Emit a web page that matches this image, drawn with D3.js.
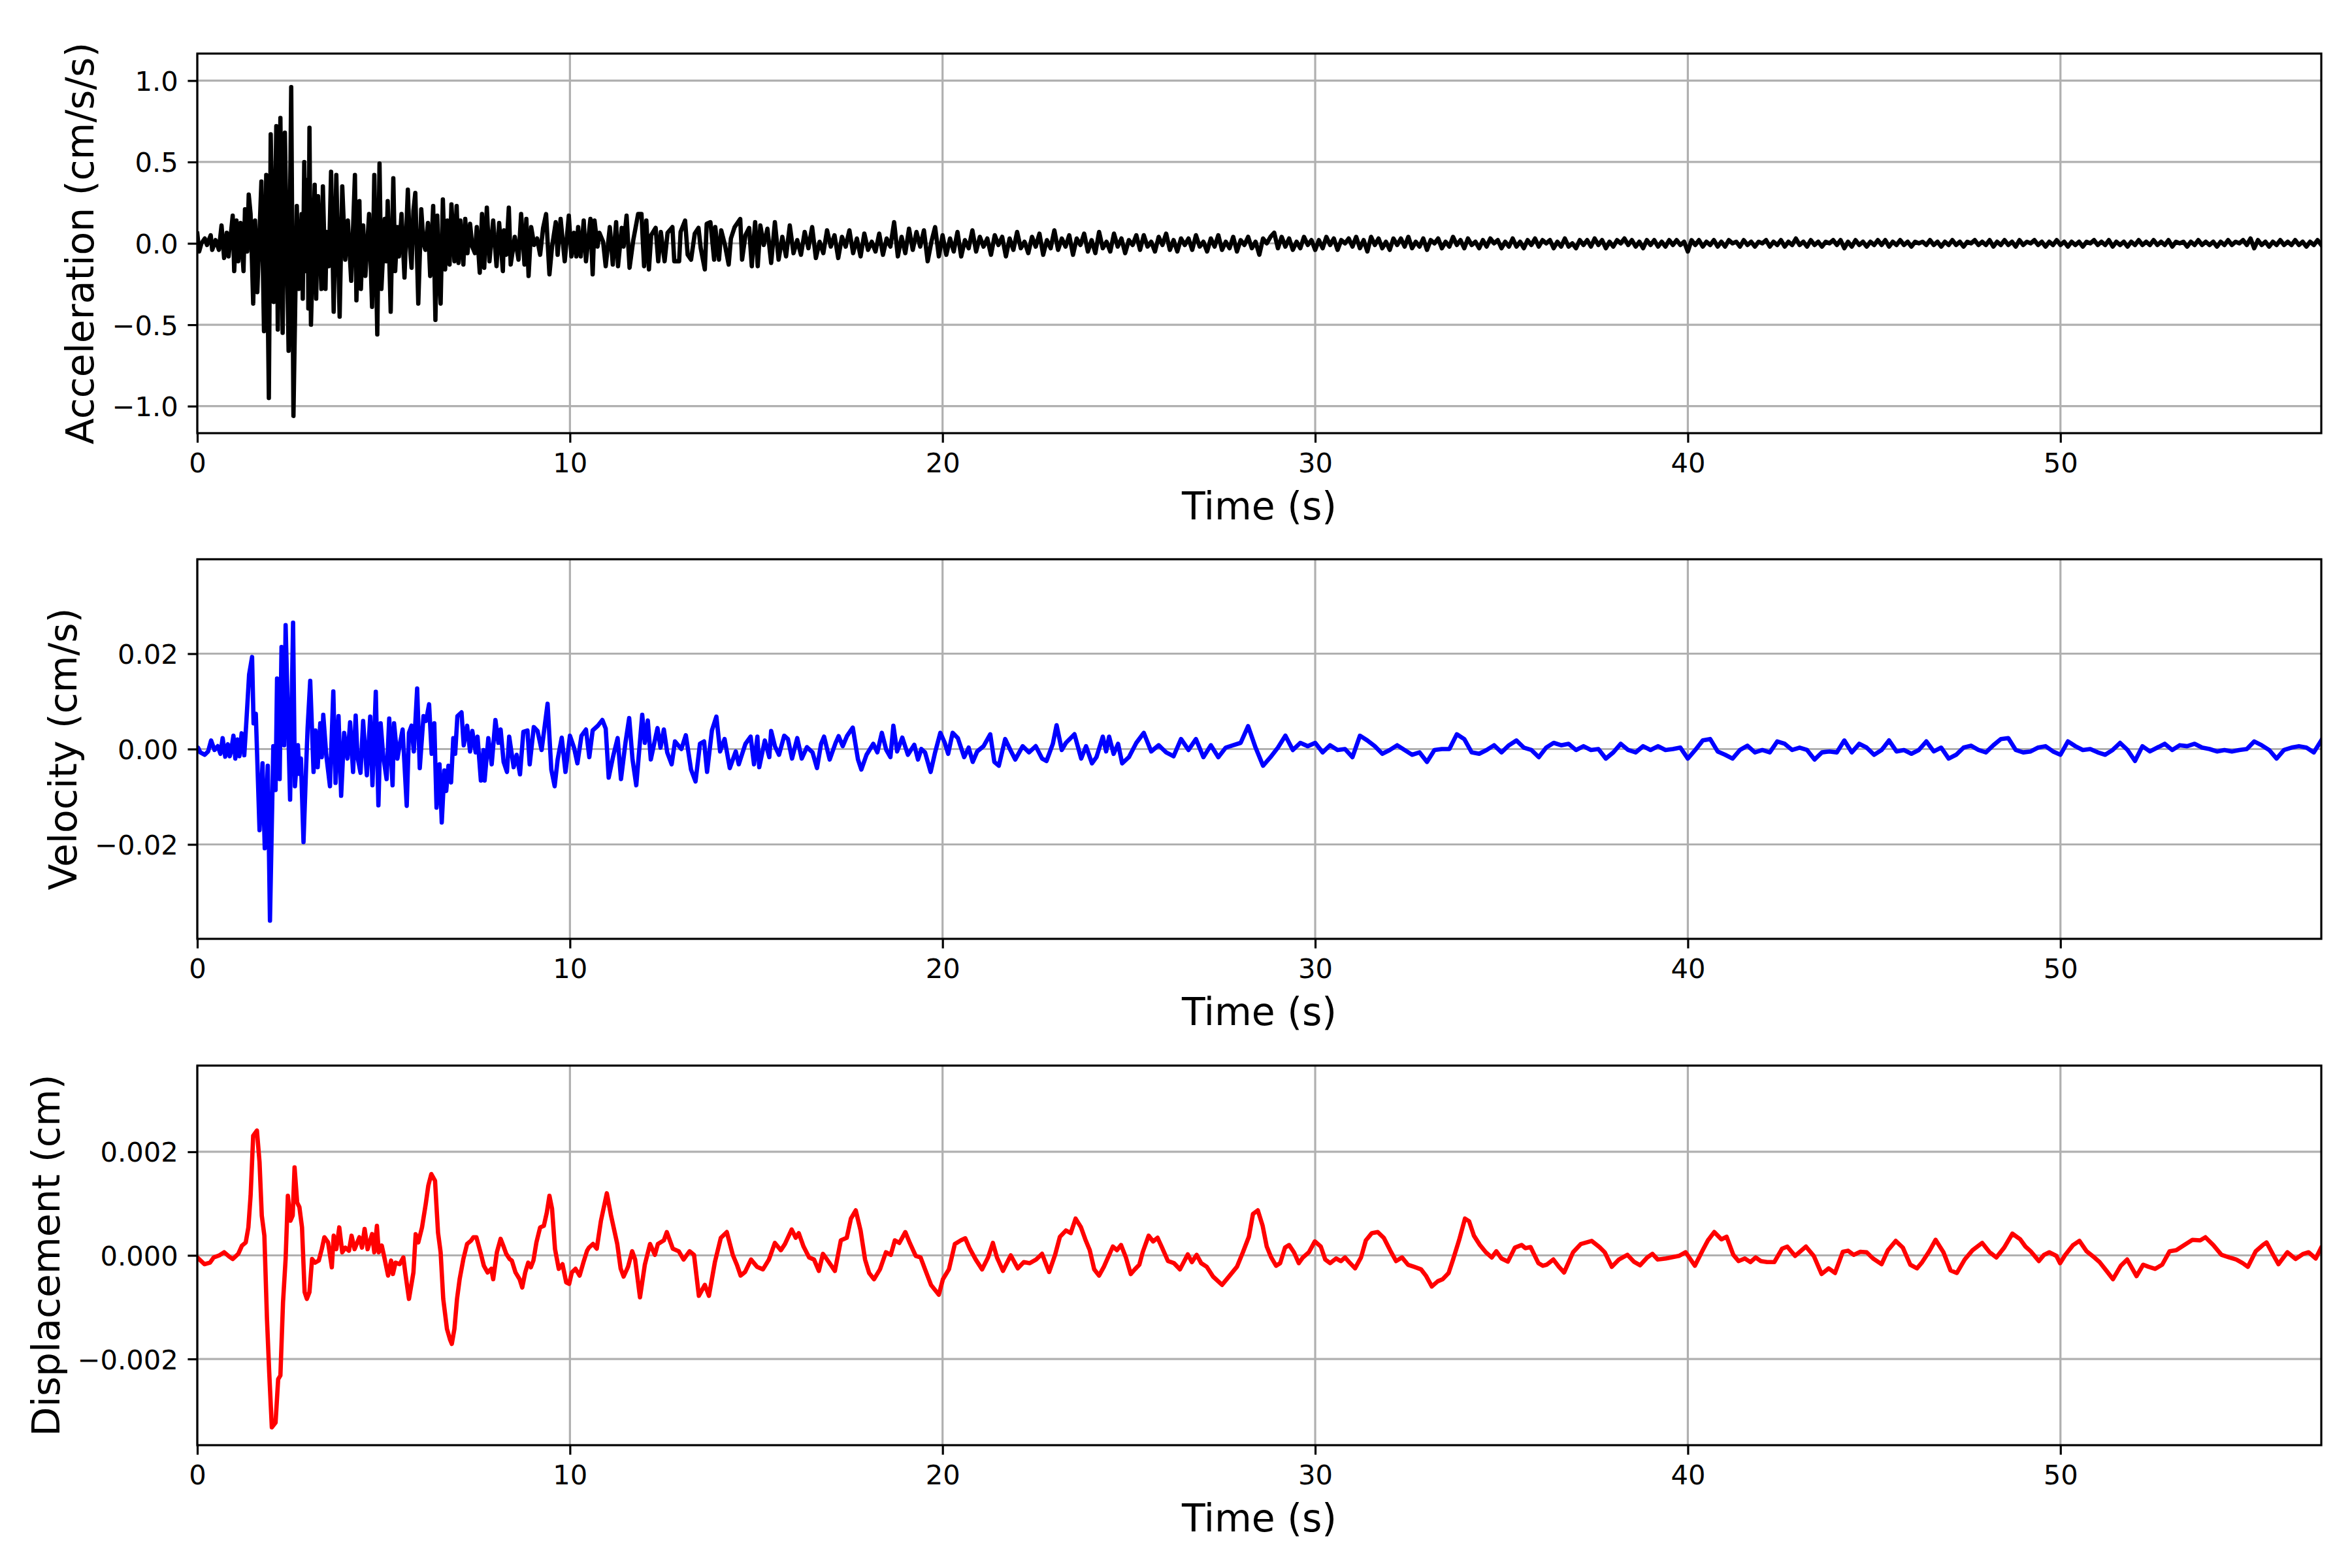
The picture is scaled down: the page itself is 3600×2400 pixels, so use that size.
<!DOCTYPE html>
<html>
<head>
<meta charset="utf-8">
<script src="https://cdn.jsdelivr.net/npm/d3@7"></script>
<style>
  html, body { margin: 0; padding: 0; background: #ffffff; }
  svg { display: block; }
</style>
</head>
<body>
<svg id="chart" width="3600" height="2400"></svg>
<script>
// ---------------- DATA ----------------
const timeTicks = [0, 10, 20, 30, 40, 50];
const timeDomain = [0, 57];
const accTicks = [-1.0, -0.5, 0.0, 0.5, 1.0];
const velTicks = [-0.02, 0.0, 0.02];
const dispTicks = [-0.002, 0.0, 0.002];
const accLimit = 1.166;
const velLimit = 0.0398;
const dispLimit = 0.003665;

// acceleration (cm/s/s): [time s, value], 0 - 15.2 s
const accEarly = [[0,.06],[.05,-.05],[.11,0],[.2,.03],[.26,-.01],[.36,.05],[.4,-.04],[.49,.02],[.58,-.04],[.65,.11],[.72,-.09],[.79,.065],[.84,-.08],[.95,.17],[.99,-.17],[1.05,.14],[1.1,-.11],[1.16,.125],[1.24,-.17],[1.28,.21],[1.34,-.05],[1.38,.3],[1.43,.18],[1.5,-.37],[1.55,.14],[1.61,-.3],[1.72,.38],[1.79,-.54],[1.85,.42],[1.92,-.95],[1.97,.67],[2.05,-.36],[2.12,.72],[2.16,-.53],[2.23,.77],[2.29,-.55],[2.35,.68],[2.45,-.66],[2.52,.96],[2.58,-1.06],[2.67,.23],[2.72,-.28],[2.8,.18],[2.83,-.34],[2.87,.5],[2.92,-.17],[2.96,.39],[2.98,-.4],[3.01,.71],[3.05,-.5],[3.15,.36],[3.19,-.34],[3.24,.29],[3.33,-.28],[3.37,.35],[3.44,-.28],[3.47,.07],[3.53,-.14],[3.59,.44],[3.66,-.42],[3.73,.42],[3.82,-.45],[3.89,.35],[3.97,-.1],[4.04,.14],[4.13,-.23],[4.23,.42],[4.27,-.35],[4.35,.26],[4.39,-.28],[4.45,.11],[4.51,-.2],[4.61,.18],[4.69,-.39],[4.75,.42],[4.83,-.56],[4.89,.49],[4.94,-.28],[5.03,.15],[5.07,-.11],[5.11,.26],[5.19,-.42],[5.26,.4],[5.31,-.17],[5.37,.1],[5.41,-.08],[5.48,.18],[5.56,-.21],[5.65,.33],[5.7,0],[5.75,-.15],[5.8,.2],[5.85,.31],[5.93,-.37],[6.01,.21],[6.07,0],[6.12,-.04],[6.19,.125],[6.25,-.2],[6.33,.23],[6.39,-.47],[6.44,.17],[6.48,-.16],[6.53,-.37],[6.59,.27],[6.65,-.16],[6.71,.14],[6.77,-.13],[6.82,.24],[6.9,-.11],[6.96,.23],[7.01,-.12],[7.06,.14],[7.14,-.13],[7.19,.15],[7.25,-.06],[7.32,.12],[7.38,-.02],[7.45,-.06],[7.5,.1],[7.58,-.18],[7.64,.18],[7.7,-.15],[7.77,.22],[7.84,-.11],[7.94,.14],[8.03,-.14],[8.1,.125],[8.2,-.17],[8.23,.08],[8.29,-.07],[8.36,.22],[8.41,-.13],[8.52,.04],[8.62,-.1],[8.69,.18],[8.78,-.13],[8.83,.15],[8.89,-.2],[8.96,.1],[9.04,-.01],[9.12,.03],[9.2,-.07],[9.28,.095],[9.36,.18],[9.45,-.19],[9.52,-.02],[9.62,.13],[9.67,-.07],[9.75,.15],[9.86,-.11],[9.97,.17],[10.04,-.08],[10.11,.065],[10.17,-.08],[10.22,.1],[10.29,-.08],[10.37,.14],[10.43,-.11],[10.55,.15],[10.61,-.19],[10.66,.14],[10.74,-.02],[10.79,.065],[10.89,.01],[10.96,-.14],[11.07,.1],[11.15,-.13],[11.24,.13],[11.29,-.14],[11.39,.095],[11.44,-.02],[11.52,.17],[11.6,-.15],[11.7,.02],[11.83,.18],[11.92,.18],[11.99,-.14],[12.05,.14],[12.12,-.16],[12.18,.05],[12.3,.095],[12.37,-.11],[12.44,.07],[12.54,-.11],[12.62,.065],[12.75,.1],[12.8,-.11],[12.93,-.11],[12.97,.07],[13.09,.14],[13.16,-.07],[13.25,-.1],[13.35,.06],[13.45,.095],[13.51,-.03],[13.62,-.16],[13.67,.12],[13.77,.13],[13.87,-.1],[13.9,.1],[14,-.1],[14.06,.08],[14.16,-.01],[14.26,-.13],[14.32,.03],[14.42,.1],[14.57,.15],[14.62,-.1],[14.71,.05],[14.81,.095],[14.88,-.14],[14.97,.13],[15.04,-.14],[15.11,.11],[15.2,-.01]];

// acceleration tail, one value every 0.1 s from 15.3 s to 57.0 s
const accTailStart = 15.3, accTailStep = 0.1;
const accTail = [
 .09,-.12,.13,-.10,.04,-.08,.11,-.06,.02,-.07,
 .07,-.03,.10,-.09,.01,-.06,.08,-.02,.05,-.09,
 .04,-.02,.08,-.06,.03,-.08,.06,-.04,.01,-.05,
 .06,-.07,.03,-.02,.13,-.08,.04,-.06,.09,-.04,
 .07,-.02,.08,-.11,.01,.10,-.08,.05,-.07,.03,
 -.05,.07,-.08,.02,-.03,.08,-.05,.04,-.02,.03,
 -.07,.05,-.01,.04,-.08,.03,-.04,.07,-.03,.01,
 -.06,.04,-.02,.06,-.07,.02,-.03,.08,-.04,.03,
 -.02,.05,-.07,.03,-.01,.06,-.05,.02,-.06,.07,
 -.03,.01,-.05,.06,-.02,.03,-.06,.02,-.01,.05,
 -.04,.05,-.02,.01,-.05,.04,-.01,.06,-.04,.02,
 -.05,.03,-.01,.03,-.04,.05,-.02,.01,-.05,.03,
 -.02,.05,-.04,.01,-.03,.04,-.05,.02,-.01,.04,
 -.03,.01,-.07,.03,0,.04,.065,-.03,.04,-.02,
 .03,-.04,.01,-.03,.04,-.01,.02,-.04,.02,-.03,
 .04,-.01,.03,-.04,.02,0,.03,-.02,.04,-.03,
 .02,-.05,.04,-.01,.03,-.03,.01,-.04,.03,-.01,
 .03,-.02,.04,-.03,.01,-.02,.03,-.04,.02,0,
 .03,-.03,.01,-.02,.04,-.01,.02,-.03,.03,-.01,
 .01,-.03,.02,-.02,.03,0,.02,-.03,.01,-.02,
 .03,-.02,.01,-.03,.02,-.01,.03,-.02,.02,0,
 .02,-.03,.01,-.02,.03,-.02,0,-.03,.02,-.01,
 .02,-.02,.03,-.01,.02,-.03,.01,-.02,.02,0,
 .03,-.01,.02,-.02,.01,-.03,.02,-.01,.02,-.02,
 .01,-.02,.02,-.01,.02,-.01,.01,-.05,.02,-.01,
 .02,-.02,.01,-.01,.02,-.02,.01,-.02,.02,0,
 .01,-.02,.02,-.01,.01,-.02,.01,0,.02,-.02,
 .01,-.01,.02,-.02,.01,-.01,.03,-.01,.01,-.02,
 .02,-.01,.01,-.02,.01,0,.02,-.01,.02,-.03,
 .01,-.02,.02,-.01,.01,-.02,.01,-.01,.02,-.01,
 .02,-.02,.01,-.01,.02,-.01,.01,-.02,.01,0,
 .01,-.01,.02,-.01,.01,-.02,.01,-.01,.02,-.01,
 .01,-.02,.01,0,.02,-.01,.01,-.01,.02,-.02,
 .01,-.01,.02,-.01,.01,-.02,.02,-.01,.01,0,
 .02,-.01,.01,-.02,.01,-.01,.02,-.01,.01,-.02,
 .01,-.01,.01,-.02,.01,0,.02,-.01,.01,-.01,
 .02,-.02,.01,-.01,.01,-.02,.01,-.01,.02,-.01,
 .01,-.01,.02,-.01,.01,-.01,.02,-.02,.01,0,
 .01,-.02,.01,-.01,.02,-.01,.01,-.01,.01,-.02,
 .01,-.01,.02,-.01,.01,0,.02,-.01,.03,-.03,
 .02,-.01,.01,-.02,.01,-.01,.02,-.01,.01,-.01,
 .02,-.01,.01,-.02,.01,-.01,.02,-.01
];

// velocity (cm/s): [time s, value], 0 - 25 s
const velEarly = [[0,.0003],[.02,.0003],[.08,-.0007],[.2,-.0012],[.29,-.0005],[.37,.0018],[.46,-.0002],[.55,.0006],[.62,-.001],[.68,.0023],[.75,-.0016],[.82,.001],[.87,-.0015],[.9,-.0007],[.97,.0028],[1.02,-.002],[1.08,.002],[1.13,-.0015],[1.19,.0033],[1.26,-.0013],[1.31,.0049],[1.39,.0156],[1.47,.0193],[1.51,.0054],[1.57,.0074],[1.67,-.017],[1.75,-.003],[1.81,-.0208],[1.89,-.0035],[1.95,-.036],[2.04,.0006],[2.1,-.0086],[2.14,.0148],[2.21,-.0063],[2.26,.0214],[2.33,.0008],[2.37,.026],[2.49,-.0106],[2.57,.0265],[2.62,-.0078],[2.7,.0008],[2.74,-.0052],[2.78,-.002],[2.85,-.0195],[2.92,-.0038],[2.96,.0044],[3.03,.0143],[3.12,-.0048],[3.17,.0039],[3.23,-.0038],[3.3,.0054],[3.34,-.0017],[3.38,.0072],[3.46,-.0012],[3.56,-.0078],[3.65,.0121],[3.71,-.0071],[3.79,.0069],[3.86,-.0098],[3.94,.0034],[4.03,-.002],[4.1,.0056],[4.18,-.0048],[4.25,.007],[4.3,-.0017],[4.38,-.005],[4.45,.0059],[4.55,-.0055],[4.64,.0068],[4.7,-.0076],[4.79,.012],[4.86,-.0118],[4.92,.0054],[4.99,-.0015],[5.08,-.0063],[5.15,.0064],[5.24,-.0076],[5.28,.0054],[5.37,-.002],[5.43,.0008],[5.51,.0041],[5.62,-.0119],[5.68,.0034],[5.75,.0049],[5.81,-.0005],[5.9,.0127],[5.97,-.004],[6.07,.0069],[6.14,.0059],[6.22,.0094],[6.29,-.001],[6.36,.0054],[6.42,-.0123],[6.5,-.0032],[6.56,-.0154],[6.63,-.0045],[6.68,-.0088],[6.74,-.0035],[6.81,-.007],[6.87,.0023],[6.92,-.001],[6.98,.0069],[7.09,.0077],[7.15,.0008],[7.24,.0049],[7.32,-.0005],[7.38,.0038],[7.47,-.0007],[7.52,.0026],[7.61,-.0066],[7.68,-.0002],[7.71,-.0066],[7.81,.0023],[7.9,-.0032],[8,.0061],[8.08,.0013],[8.14,.0041],[8.22,-.0027],[8.31,-.0048],[8.37,.0026],[8.49,-.0038],[8.57,-.0012],[8.66,-.0053],[8.75,.0036],[8.86,.0039],[8.92,-.0032],[9.03,.0046],[9.13,.0038],[9.24,-.0002],[9.4,.0095],[9.5,-.0043],[9.59,-.0078],[9.67,-.0022],[9.78,.0024],[9.88,-.0048],[10,.0028],[10.11,.0003],[10.2,-.003],[10.31,.0028],[10.43,.0041],[10.52,-.0017],[10.61,.0039],[10.75,.0049],[10.87,.0061],[10.96,.0043],[11.04,-.006],[11.16,-.0015],[11.28,.0023],[11.37,-.0063],[11.49,.0013],[11.59,.0065],[11.68,-.0022],[11.78,-.0076],[11.94,.0072],[12.01,.0013],[12.09,.006],[12.17,-.0022],[12.35,.0044],[12.43,.0003],[12.52,.0041],[12.61,-.0007],[12.73,-.0032],[12.82,.0016],[12.99,0],[13.11,.0029],[13.25,-.0043],[13.37,-.0068],[13.49,.0011],[13.6,.0016],[13.68,-.0048],[13.81,.0039],[13.93,.0068],[14.03,-.0005],[14.15,.0021],[14.29,-.004],[14.45,-.0005],[14.53,-.0032],[14.71,.0011],[14.85,.0026],[14.94,-.0032],[15.03,.0026],[15.08,-.0038],[15.23,.0018],[15.35,-.0017],[15.4,.0038],[15.5,.0006],[15.61,-.0012],[15.75,.0028],[15.85,.0021],[15.96,-.002],[16.1,.0023],[16.22,-.002],[16.36,.0004],[16.51,-.0007],[16.63,-.004],[16.74,.0011],[16.82,.0026],[16.97,-.0022],[17.13,.0013],[17.21,.0027],[17.32,.0006],[17.44,.0028],[17.59,.0045],[17.73,-.0022],[17.82,-.0043],[17.96,-.0012],[18.14,.0011],[18.25,-.0007],[18.37,.0034],[18.49,-.0002],[18.6,-.0017],[18.68,.0049],[18.78,-.0005],[18.92,.0024],[19.07,-.0012],[19.24,.0009],[19.34,-.0022],[19.43,0],[19.53,-.0007],[19.68,-.0048],[19.8,-.0007],[19.94,.0034],[20.06,.0013],[20.15,-.001],[20.27,.0034],[20.41,.0023],[20.58,-.0017],[20.7,.0003],[20.81,-.0027],[20.93,-.0005],[21.1,.0006],[21.28,.0031],[21.39,-.0027],[21.51,-.0035],[21.68,.0021],[21.82,-.0002],[21.95,-.0022],[22.15,.0006],[22.32,-.0007],[22.5,.0006],[22.67,-.002],[22.79,-.0025],[22.96,.0011],[23.06,.005],[23.2,-.0002],[23.31,.0013],[23.54,.0031],[23.72,-.002],[23.85,.0006],[24.01,-.003],[24.13,-.0017],[24.3,.0026],[24.39,-.0005],[24.47,.0026],[24.59,-.001],[24.71,.0011],[24.82,-.003],[25,-.0017]];

// velocity tail, one value every 0.2 s from 25.2 s to 57.0 s
const velTailStart = 25.2, velTailStep = 0.2;
const velTail = [
 .0013,.0034,-.0005,.0008,-.0007,
 -.0015,.0021,-.0002,.0021,-.0017,
 .0008,-.0017,.0003,.0008,.0013,
 .0048,.0003,-.0035,-.0017,.0003,
 .0028,-.0002,.0013,.0006,.0013,
 -.0007,.0008,-.0002,0,-.0017,
 .0028,.0018,.0006,-.001,-.0002,
 .0008,-.0002,-.0012,-.0007,-.0027,
 -.0002,0,0,.0031,.0021,
 -.0007,-.001,-.0002,.0008,-.0007,
 .0008,.0018,.0003,-.0002,-.0017,
 .0003,.0013,.0008,.0011,-.0002,
 .0006,-.0002,0,-.002,-.0007,
 .0011,-.0002,-.0007,.0006,-.0002,
 .0006,-.0002,0,.0003,-.002,
 -.0002,.0018,.0021,-.0005,-.0012,
 -.002,-.0002,.0007,-.0007,-.0002,
 -.0007,.0016,.0011,-.0002,.0003,
 -.0002,-.0022,-.0007,-.0005,-.0007,
 .0018,-.0007,.0011,.0003,-.0012,
 -.0002,.0018,-.0005,-.0002,-.001,
 -.0002,.0016,-.0005,.0003,-.002,
 -.0012,.0003,.0007,-.0002,-.0007,
 .0008,.0021,.0023,-.0002,-.0007,
 -.0005,.0003,.0006,-.0005,-.0012,
 .0016,.0006,-.0002,0,-.0007,
 -.0012,-.0002,.0013,-.0002,-.0025,
 .0006,-.0005,.0003,.0011,-.0002,
 .0008,.0006,.0011,.0003,0,
 -.0005,-.0002,-.0005,-.0002,0,
 .0016,.0008,-.0002,-.002,-.0002,
 .0003,.0006,.0003,-.0007,.0018
];

// displacement (cm): [time s, value]
const dispPoints = [[0,-.00004],[.19,-.00017],[.34,-.00014],[.44,-.00004],[.59,0],[.72,.00006],[.85,-.00002],[.95,-.00007],[1.1,.00003],[1.2,.00019],[1.3,.00025],[1.37,.00054],[1.43,.00115],[1.5,.00231],[1.6,.00241],[1.67,.0018],[1.73,.00077],[1.8,.00038],[1.87,-.00123],[1.93,-.00226],[2,-.00332],[2.1,-.00323],[2.17,-.00239],[2.23,-.00232],[2.3,-.00091],[2.37,-.00007],[2.43,.00115],[2.5,.00067],[2.56,.00077],[2.61,.0017],[2.68,.00102],[2.74,.00093],[2.81,.00054],[2.88,-.00071],[2.94,-.00084],[3.01,-.00071],[3.08,-.00007],[3.16,-.00014],[3.26,-.0001],[3.34,.00012],[3.41,.00035],[3.51,.00025],[3.61,-.00023],[3.66,.00038],[3.73,.00012],[3.81,.00054],[3.89,.00006],[3.97,.00015],[4.07,.00009],[4.14,.00038],[4.22,.00012],[4.35,.00035],[4.42,.00015],[4.49,.00051],[4.57,.00012],[4.69,.00041],[4.75,.00006],[4.82,.00057],[4.87,.00006],[4.95,.00019],[5.02,-.00004],[5.12,-.00039],[5.2,-.0001],[5.25,-.00036],[5.32,-.00014],[5.43,-.00017],[5.53,-.00004],[5.58,-.00033],[5.68,-.00084],[5.8,-.00033],[5.86,.00041],[5.93,.00025],[6.03,.00054],[6.13,.00099],[6.2,.00135],[6.28,.00157],[6.38,.00144],[6.46,.00044],[6.53,.00006],[6.6,-.00084],[6.7,-.00142],[6.78,-.00162],[6.83,-.00171],[6.9,-.00142],[6.97,-.00084],[7.04,-.00046],[7.14,-.00007],[7.24,.00022],[7.34,.00028],[7.41,.00035],[7.49,.00035],[7.61,.00003],[7.69,-.0002],[7.79,-.00033],[7.89,-.00026],[7.94,-.00046],[8.04,.00006],[8.14,.00032],[8.21,.00019],[8.29,.00003],[8.38,-.00007],[8.44,-.0001],[8.54,-.00033],[8.65,-.00046],[8.72,-.00062],[8.8,-.00033],[8.88,-.00014],[8.95,-.00023],[9.02,-.0001],[9.1,.00025],[9.2,.00054],[9.3,.00057],[9.38,.00083],[9.45,.00115],[9.52,.0009],[9.6,.00012],[9.7,-.00026],[9.8,-.00017],[9.9,-.00052],[9.98,-.00055],[10.05,-.00033],[10.15,-.00026],[10.26,-.00039],[10.36,-.00014],[10.46,.00009],[10.51,.00015],[10.62,.00022],[10.72,.00013],[10.83,.00066],[10.99,.0012],[11.1,.00078],[11.27,.00022],[11.36,-.00025],[11.44,-.00041],[11.56,-.00022],[11.67,.00008],[11.75,-.00008],[11.88,-.00081],[12.01,-.00018],[12.15,.00022],[12.28,.00001],[12.36,.00022],[12.52,.00029],[12.6,.00045],[12.76,.00013],[12.92,.00008],[13.05,-.00008],[13.21,.00008],[13.33,.00001],[13.46,-.00078],[13.62,-.00057],[13.73,-.00078],[13.89,-.00013],[14.05,.00034],[14.21,.00045],[14.37,.00001],[14.49,-.0002],[14.58,-.00039],[14.7,-.00032],[14.86,-.00008],[15.02,-.00022],[15.18,-.00027],[15.34,-.00008],[15.5,.00024],[15.66,.0001],[15.77,.00022],[15.95,.0005],[16.06,.00034],[16.14,.00043],[16.27,.00017],[16.42,-.00004],[16.55,-.00008],[16.68,-.0003],[16.79,.00003],[16.9,-.00008],[17.11,-.0003],[17.27,.00029],[17.43,.00034],[17.54,.00071],[17.67,.00087],[17.8,.00048],[17.92,-.00008],[18.03,-.00034],[18.16,-.00046],[18.32,-.00027],[18.48,.00006],[18.61,.00001],[18.72,.00029],[18.84,.00024],[19,.00045],[19.12,.00024],[19.28,-.00001],[19.41,-.00004],[19.53,-.00027],[19.69,-.00057],[19.9,-.00076],[20.01,-.00046],[20.17,-.00027],[20.33,.00022],[20.49,.00029],[20.61,.00033],[20.73,.00013],[20.89,-.00008],[21.06,-.00027],[21.22,-.00004],[21.35,.00024],[21.46,-.00004],[21.62,-.0003],[21.83,0],[22.02,-.00025],[22.18,-.00013],[22.34,-.00015],[22.51,-.00008],[22.67,.00003],[22.86,-.00032],[23.02,.00001],[23.15,.00036],[23.31,.00048],[23.44,.00043],[23.57,.00071],[23.71,.00055],[23.83,.00031],[23.95,.0001],[24.07,-.00027],[24.2,-.00039],[24.33,-.00022],[24.44,-.00004],[24.57,.00017],[24.68,.0001],[24.79,.0002],[24.92,-.00004],[25.05,-.00036],[25.16,-.00027],[25.28,-.00018],[25.37,.00006],[25.53,.00038],[25.65,.00027],[25.77,.00034],[25.89,.00015],[26.05,-.00011],[26.21,-.00015],[26.37,-.00027],[26.58,.00002],[26.69,-.00013],[26.82,.00001],[26.94,-.00015],[27.09,-.00022],[27.26,-.00041],[27.5,-.00057],[27.66,-.00043],[27.9,-.00022],[28.06,.00006],[28.22,.00036],[28.33,.0008],[28.46,.00087],[28.59,.00057],[28.7,.00017],[28.82,-.00004],[28.95,-.0002],[29.06,-.00015],[29.19,.00015],[29.3,.0002],[29.43,.00006],[29.56,-.00015],[29.67,-.00004],[29.83,.00006],[29.99,.00027],[30.15,.00017],[30.27,-.00008],[30.4,-.00015],[30.56,-.00006],[30.69,-.00011],[30.8,-.00004],[30.91,-.00013],[31.07,-.00025],[31.23,-.00004],[31.36,.00029],[31.52,.00043],[31.68,.00045],[31.84,.00034],[32.01,.0001],[32.17,-.00011],[32.33,-.00004],[32.49,-.00018],[32.65,-.00022],[32.84,-.00027],[32.97,-.00039],[33.13,-.0006],[33.29,-.0005],[33.42,-.00046],[33.58,-.00034],[33.7,-.00008],[33.86,.00029],[34.02,.00071],[34.13,.00066],[34.26,.00038],[34.42,.0002],[34.58,.00006],[34.74,-.00004],[34.86,.00008],[35,-.00006],[35.17,-.00012],[35.36,.00015],[35.54,.0002],[35.64,.00014],[35.78,.00016],[35.99,-.00015],[36.11,-.0002],[36.21,-.00018],[36.39,-.00008],[36.54,-.00022],[36.68,-.00033],[36.92,.00006],[37.13,.00022],[37.42,.00028],[37.63,.00016],[37.77,.00006],[37.96,-.00022],[38.15,-.00008],[38.38,.00001],[38.55,-.00012],[38.72,-.00019],[38.91,-.00004],[39.05,.00003],[39.19,-.00008],[39.41,-.00006],[39.76,-.00001],[39.94,.00006],[40.19,-.0002],[40.4,.0001],[40.54,.00029],[40.71,.00045],[40.9,.00031],[41.04,.00036],[41.22,.00001],[41.36,-.00011],[41.53,-.00006],[41.68,-.00013],[41.82,-.00004],[41.96,-.00011],[42.13,-.00013],[42.32,-.00013],[42.53,.00013],[42.67,.00017],[42.88,-.00001],[43.17,.00017],[43.38,-.00001],[43.59,-.00036],[43.78,-.00025],[43.95,-.00034],[44.16,.00007],[44.3,.00009],[44.45,.00001],[44.63,.00007],[44.8,.00006],[44.97,-.00006],[45.2,-.00017],[45.37,.0001],[45.58,.00028],[45.77,.00015],[45.97,-.00018],[46.15,-.00025],[46.29,-.00013],[46.48,.00008],[46.65,.0003],[46.86,.00006],[47.05,-.00029],[47.22,-.00034],[47.43,-.00008],[47.64,.0001],[47.9,.00024],[48.1,.00006],[48.28,-.00004],[48.49,.00015],[48.71,.00042],[48.92,.00031],[49.06,.00017],[49.2,.00008],[49.42,-.00011],[49.56,.00001],[49.7,.00006],[49.89,-.00001],[49.99,-.00015],[50.13,.00001],[50.34,.0002],[50.51,.00028],[50.7,.00008],[50.91,-.00004],[51.05,-.00013],[51.26,-.00032],[51.41,-.00046],[51.62,-.0002],[51.79,-.00008],[51.9,-.00022],[52.04,-.0004],[52.22,-.00018],[52.36,-.00022],[52.54,-.00026],[52.73,-.00018],[52.93,.00008],[53.11,.0001],[53.32,.0002],[53.54,.0003],[53.75,.00029],[53.89,.00035],[54.1,.0002],[54.32,.00001],[54.53,-.00004],[54.72,-.00008],[54.89,-.00015],[55.03,-.00022],[55.24,.00008],[55.43,.0002],[55.53,.00025],[55.71,.00001],[55.85,-.00017],[56.09,.00006],[56.31,-.00007],[56.52,.00003],[56.66,.00006],[56.85,-.00006],[56.99,.00014]];

// ---------------- BUILD SERIES ----------------
const accData = accEarly.map(d => ({ t: d[0], v: d[1] }))
  .concat(accTail.map((v, i) => ({ t: +(accTailStart + i * accTailStep).toFixed(3), v })));
const velData = velEarly.map(d => ({ t: d[0], v: d[1] }))
  .concat(velTail.map((v, i) => ({ t: +(velTailStart + i * velTailStep).toFixed(3), v })));
const dispData = dispPoints.map(d => ({ t: d[0], v: d[1] }));

// ---------------- LAYOUT / STYLE ----------------
const W = 3600, H = 2400;
const plotLeft = 302, plotRight = 3553, panelH = 581;
const FONT = "'DejaVu Sans', 'Liberation Sans', sans-serif";
const tickFont = 41.67, labelFont = 58.33;
const tickLen = 14.6, thin = 3.2, lineW = 6.6;

const svg = d3.select('#chart');
svg.append('rect').attr('width', W).attr('height', H).attr('fill', '#ffffff');

const x = d3.scaleLinear().domain(timeDomain).range([plotLeft, plotRight]);

const panels = [
  { top: 82,   data: accData,  lim: accLimit,  ticks: accTicks,  fmt: d3.format('.1f'), color: '#000000', label: 'Acceleration (cm/s/s)', labelX: 143 },
  { top: 856,  data: velData,  lim: velLimit,  ticks: velTicks,  fmt: d3.format('.2f'), color: '#0000ff', label: 'Velocity (cm/s)',       labelX: 117 },
  { top: 1631, data: dispData, lim: dispLimit, ticks: dispTicks, fmt: d3.format('.3f'), color: '#ff0000', label: 'Displacement (cm)',     labelX: 91 }
];

panels.forEach((p, idx) => {
  const top = p.top, bottom = p.top + panelH;
  const y = d3.scaleLinear().domain([-p.lim, p.lim]).range([bottom, top]);
  const g = svg.append('g');

  const clipId = 'clip' + idx;
  svg.append('clipPath').attr('id', clipId)
    .append('rect').attr('x', plotLeft).attr('y', top)
    .attr('width', plotRight - plotLeft).attr('height', panelH);

  // grid
  g.append('g').selectAll('line').data(timeTicks).join('line')
    .attr('x1', d => x(d)).attr('x2', d => x(d))
    .attr('y1', top).attr('y2', bottom)
    .attr('stroke', '#b0b0b0').attr('stroke-width', thin);
  g.append('g').selectAll('line').data(p.ticks).join('line')
    .attr('x1', plotLeft).attr('x2', plotRight)
    .attr('y1', d => y(d)).attr('y2', d => y(d))
    .attr('stroke', '#b0b0b0').attr('stroke-width', thin);

  // data line
  const line = d3.line().x(d => x(d.t)).y(d => y(d.v));
  g.append('path').datum(p.data)
    .attr('clip-path', `url(#${clipId})`)
    .attr('d', line)
    .attr('fill', 'none')
    .attr('stroke', p.color)
    .attr('stroke-width', lineW)
    .attr('stroke-linejoin', 'round')
    .attr('stroke-linecap', 'square');

  // axes
  const xAxis = d3.axisBottom(x).tickValues(timeTicks).tickFormat(d3.format('d'))
    .tickSize(tickLen).tickPadding(16).tickSizeOuter(0);
  const yAxis = d3.axisLeft(y).tickValues(p.ticks).tickFormat(p.fmt)
    .tickSize(tickLen).tickPadding(14.6).tickSizeOuter(0);

  const gx = g.append('g').attr('transform', `translate(0,${bottom})`).call(xAxis);
  const gy = g.append('g').attr('transform', `translate(${plotLeft},0)`).call(yAxis);
  [gx, gy].forEach(ax => {
    ax.select('.domain').remove();
    ax.selectAll('.tick line').attr('stroke', '#000').attr('stroke-width', thin);
    ax.selectAll('.tick text').attr('fill', '#000')
      .style('font-family', FONT).style('font-size', tickFont + 'px');
  });
  gy.selectAll('.tick text').attr('dy', '0.36em');

  // spines
  g.append('rect').attr('x', plotLeft).attr('y', top)
    .attr('width', plotRight - plotLeft).attr('height', panelH)
    .attr('fill', 'none').attr('stroke', '#000').attr('stroke-width', thin);

  // labels
  g.append('text')
    .attr('x', (plotLeft + plotRight) / 2).attr('y', bottom + 132)
    .attr('text-anchor', 'middle')
    .style('font-family', FONT).style('font-size', labelFont + 'px')
    .attr('fill', '#000')
    .text('Time (s)');
  g.append('text')
    .attr('transform', `translate(${p.labelX},${top + panelH / 2}) rotate(-90)`)
    .attr('text-anchor', 'middle')
    .style('font-family', FONT).style('font-size', labelFont + 'px')
    .attr('fill', '#000')
    .text(p.label);
});
</script>
</body>
</html>
